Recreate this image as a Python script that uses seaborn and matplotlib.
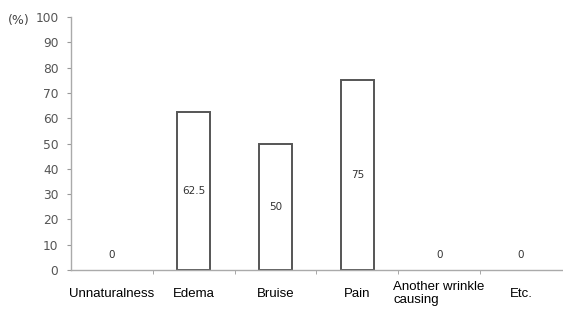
import numpy as np
import pandas as pd
import matplotlib
matplotlib.use("Agg")
import matplotlib.pyplot as plt
import seaborn as sns

# data
categories = ["Unnaturalness", "Edema", "Bruise", "Pain", "Another wrinkle\ncausing", "Etc."]
values = [0, 62.5, 50, 75, 0, 0]
value_labels = ["0", "62.5", "50", "75", "0", "0"]
y_ticks = [0, 10, 20, 30, 40, 50, 60, 70, 80, 90, 100]

sns.set_style("white")
plt.rcParams["font.family"] = ["Liberation Sans", "DejaVu Sans"]

df = pd.DataFrame({"cat": categories, "val": values})

fig = plt.figure(figsize=(5.63, 3.11), dpi=100)
ax = fig.add_axes([0.126, 0.132, 0.872, 0.813])

sns.barplot(data=df, x="cat", y="val", ax=ax, width=0.41,
            color="white", edgecolor="#555555", linewidth=1.4, saturation=1)

# zero bars vanish into the axis line
for p, v in zip(ax.patches, values):
    if v == 0:
        p.set_linewidth(0)

ax.set_ylim(0, 100)
ax.set_xlim(-0.5, len(categories) - 0.5)
ax.set_yticks(y_ticks)
ax.set_yticklabels([str(t) for t in y_ticks], fontsize=8.8, color="#555555",
                   family=["DejaVu Sans"])
ax.set_xticks(range(len(categories)))
ax.set_xticklabels(categories, fontsize=9.5, color="black", linespacing=1.1)
for lab in ax.get_xticklabels():
    lab.set_va("center")
    lab.set_multialignment("left")
ax.tick_params(axis="x", length=0, pad=17)
ax.tick_params(axis="y", length=3, color="#999999", direction="out", left=True, pad=6)
# category boundary ticks
ax.set_xticks(np.arange(0.5, len(categories) - 0.5, 1), minor=True)
ax.tick_params(axis="x", which="minor", length=3, color="#999999", direction="out", bottom=True)

for s in ["top", "right"]:
    ax.spines[s].set_visible(False)
for s in ["left", "bottom"]:
    ax.spines[s].set_color("#aaaaaa")
    ax.spines[s].set_linewidth(1.0)

# value labels
for i, (v, lab) in enumerate(zip(values, value_labels)):
    y = v / 2 if v > 0 else 6
    ax.text(i, y, lab, ha="center", va="center", fontsize=7.5, color="#333333",
            family=["DejaVu Sans"])

ax.set_xlabel("")
ax.set_ylabel("")
fig.text(0.014, 0.935, "(%)", fontsize=9, color="#444444", ha="left", va="center",
         family=["DejaVu Sans"])

fig.savefig("out.png", dpi=100)
